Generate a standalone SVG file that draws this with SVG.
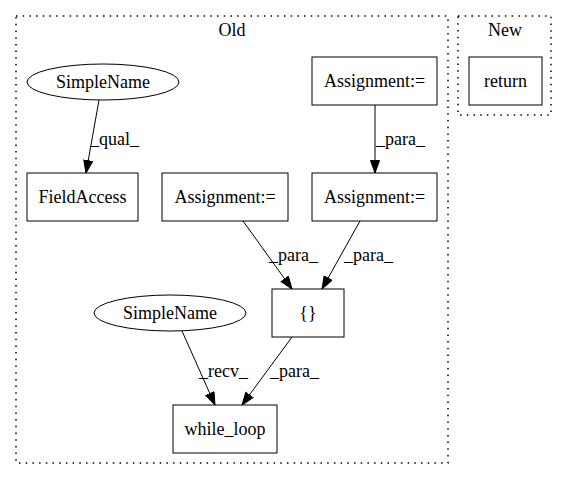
<svg xmlns="http://www.w3.org/2000/svg" width="568" height="480" viewBox="0 0 568 480" font-family="'Liberation Serif', 'DejaVu Serif', serif" font-size="18">
<style>
text{font-family:"Liberation Serif","DejaVu Serif",serif;font-size:18px;fill:#000}
.n{fill:#fff;stroke:#000;stroke-width:1}
.c{fill:none;stroke:#000;stroke-width:1.5;stroke-dasharray:1.5,5.2}
.e{fill:none;stroke:#000;stroke-width:1;marker-end:url(#ah)}
.m{text-anchor:middle}
</style>
<defs>
<marker id="ah" markerWidth="14" markerHeight="11" refX="13" refY="5" orient="auto" markerUnits="userSpaceOnUse">
<path d="M0.5,0.5 L13,5 L0.5,9.5 Z" fill="#000" stroke="#000" stroke-width="1"/>
</marker>
</defs>
<rect width="568" height="480" fill="#fff"/>
<g id="cluster_old">
<rect class="c" x="16" y="16" width="432" height="447"/>
<text class="m" x="232" y="36">Old</text>
</g>
<g id="cluster_new">
<rect class="c" x="458" y="16" width="93" height="99"/>
<text class="m" x="505" y="36">New</text>
</g>
<g id="connectors">
<path class="e" d="M99,100 L86,173"/>
<text x="90" y="145">_qual_</text>
<path class="e" d="M375,105 L375,173"/>
<text x="376" y="145">_para_</text>
<path class="e" d="M243,221 L292,289"/>
<text x="269" y="261">_para_</text>
<path class="e" d="M360,221 L322,289"/>
<text x="344" y="261">_para_</text>
<path class="e" d="M182,331 L215,405"/>
<text x="199" y="377">_recv_</text>
<path class="e" d="M292,337 L242,405"/>
<text x="270" y="377">_para_</text>
</g>
<g id="simplename1">
<ellipse class="n" cx="103" cy="82" rx="76" ry="18"/>
<text class="m" x="103" y="88">SimpleName</text>
</g>
<g id="fieldaccess">
<rect class="n" x="27" y="173" width="111" height="48"/>
<text class="m" x="82.5" y="203">FieldAccess</text>
</g>
<g id="assign_left">
<rect class="n" x="162" y="173" width="126" height="48"/>
<text class="m" x="225" y="203">Assignment:=</text>
</g>
<g id="assign_top">
<rect class="n" x="312" y="57" width="125" height="48"/>
<text class="m" x="374.5" y="87">Assignment:=</text>
</g>
<g id="assign_right">
<rect class="n" x="312" y="173" width="125" height="48"/>
<text class="m" x="374.5" y="203">Assignment:=</text>
</g>
<g id="return">
<rect class="n" x="469" y="57" width="73" height="48"/>
<text class="m" x="505.5" y="87">return</text>
</g>
<g id="braces">
<rect class="n" x="272" y="289" width="72" height="48"/>
<text class="m" x="308" y="319">{}</text>
</g>
<g id="simplename2">
<ellipse class="n" cx="170" cy="313" rx="76" ry="18"/>
<text class="m" x="170" y="319">SimpleName</text>
</g>
<g id="while_loop">
<rect class="n" x="173" y="405" width="104" height="48"/>
<text class="m" x="225" y="435">while_loop</text>
</g>
</svg>
